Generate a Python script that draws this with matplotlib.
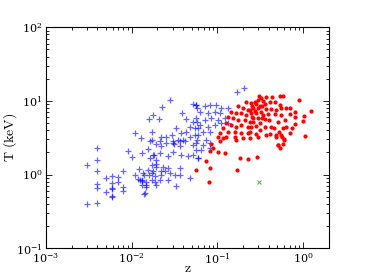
import numpy as np
import matplotlib
matplotlib.use("Agg")
import matplotlib.pyplot as plt

plt.rcParams['mathtext.fontset'] = 'cm'
plt.rcParams['font.family'] = ['DejaVu Serif']

# blue crosses: low-z sample
blue_z = [0.0109, 0.0129, 0.0040, 0.0090, 0.0100, 0.0040, 0.0030, 0.0040, 0.0080, 0.0121,
          0.0109, 0.0138, 0.0050, 0.0059, 0.0070, 0.0119, 0.0131, 0.0059, 0.0070, 0.0040,
          0.0040, 0.0059, 0.0059, 0.0080, 0.0080, 0.0050, 0.0059, 0.0059, 0.0138, 0.0030,
          0.0040,
          0.0163, 0.0223, 0.0305, 0.0364, 0.0417, 0.052, 0.057, 0.0131, 0.0178, 0.0195,
          0.0163, 0.0267, 0.0305, 0.0381, 0.0455, 0.052, 0.0594, 0.0171, 0.0195, 0.0156,
          0.0136, 0.0171, 0.0233, 0.0244, 0.0223, 0.0279, 0.0364, 0.0364, 0.0476, 0.0131,
          0.0149, 0.0131, 0.0149, 0.0187, 0.0143, 0.0333, 0.0213, 0.0267, 0.0195, 0.0213,
          0.031, 0.016, 0.0187, 0.0267, 0.0156,
          0.0279, 0.0229, 0.0178, 0.0160, 0.0208, 0.0392, 0.052, 0.056, 0.058, 0.0436,
          0.052, 0.058, 0.0476, 0.0545, 0.0594, 0.0175, 0.0175, 0.0223, 0.0255, 0.0292,
          0.0333, 0.0381, 0.0436, 0.0476, 0.0545, 0.058, 0.0348, 0.0398, 0.0305, 0.0255,
          0.0217,
          0.204, 0.171, 0.057, 0.0711, 0.0813, 0.0973, 0.111, 0.133, 0.0622, 0.0778,
          0.0931, 0.106, 0.057, 0.0711, 0.0851, 0.102, 0.122, 0.0622, 0.0778, 0.0931,
          0.111, 0.133, 0.0681, 0.0813, 0.0594, 0.0745, 0.0681, 0.0813, 0.057, 0.0652,
          0.0813, 0.0594,
          0.0125, 0.0149, 0.0178, 0.0195, 0.0223, 0.0171, 0.0319, 0.0182, 0.0364, 0.0195]
blue_T = [3.72, 3.18, 2.31, 2.08, 1.72, 1.58, 1.34, 1.13, 1.12, 1.19,
          0.99, 1.00, 0.90, 0.96, 0.92, 0.87, 0.82, 0.76, 0.79, 0.75,
          0.66, 0.66, 0.63, 0.68, 0.59, 0.57, 0.51, 0.49, 0.55, 0.40,
          0.41,
          2.81, 2.45, 2.67, 2.45, 2.81, 2.53, 2.17, 1.95, 1.85, 1.58,
          1.67, 1.76, 2.05, 1.85, 1.76, 1.85, 1.67, 1.35, 1.28, 1.16,
          1.04, 1.04, 1.28, 1.10, 0.99, 1.04, 0.99, 1.22, 0.89, 0.85,
          0.80, 0.72, 0.72, 0.80, 0.56, 0.69, 0.83, 0.83, 0.73, 1.97,
          2.56, 1.00, 0.95, 1.21, 2.19,
          10.3, 8.24, 6.47, 5.66, 5.66, 6.82, 9.14, 8.85, 8.13, 5.66,
          5.15, 5.25, 4.49, 4.35, 4.27, 3.84, 2.96, 3.28, 3.22, 3.46,
          4.27, 3.65, 3.84, 3.28, 3.46, 2.96, 2.96, 2.96, 2.81, 2.67,
          2.81,
          14.9, 13.4, 8.85, 8.40, 8.85, 8.85, 7.98, 7.98, 7.18, 6.82,
          7.18, 6.82, 5.84, 5.53, 5.84, 5.53, 5.84, 4.73, 4.49, 4.73,
          4.99, 4.99, 3.84, 3.84, 3.46, 2.96, 2.53, 2.67, 2.67, 2.17,
          2.28, 1.67,
          0.83, 0.67, 1.11, 1.37, 1.11, 0.83, 1.00, 1.84, 2.84, 2.56]

# red dots: high-z sample
red_z = [0.217, 0.248, 0.174, 0.199, 0.227, 0.259, 0.146, 0.166, 0.190, 0.217,
         0.248, 0.133, 0.152, 0.174, 0.208, 0.238, 0.259, 0.127, 0.146, 0.166,
         0.190, 0.227, 0.116, 0.133, 0.159, 0.190, 0.227, 0.106, 0.127, 0.159,
         0.199, 0.116, 0.102, 0.166, 0.238, 0.106, 0.0851, 0.0889, 0.0813, 0.102,
         0.122, 0.0745, 0.182, 0.227, 0.057, 0.083, 0.169, 0.0795, 0.288, 0.512,
         0.541, 0.579, 0.590,
         0.305, 0.325, 0.437, 0.541, 0.579, 0.889, 0.296, 0.272, 0.355, 0.406,
         0.464, 0.541, 0.255, 0.310, 0.365, 0.425, 0.476, 0.555, 0.622, 0.693,
         0.238, 0.272, 0.284, 0.325, 0.339, 0.387, 0.464, 0.555, 0.693, 0.813,
         1.224, 0.793, 1.016, 0.255, 0.296, 0.355, 0.398, 0.507, 0.607, 0.989,
         0.259, 0.310, 0.248, 0.425, 0.452, 0.579, 0.622, 0.793, 0.745, 0.520,
         0.693, 0.238, 0.284, 0.296, 0.372, 0.406, 0.476, 0.476, 0.555, 0.570,
         0.594, 1.054, 0.507,
         0.296, 0.33, 0.28, 0.33, 0.284, 0.31, 0.355, 0.34, 0.365]
red_T = [9.8, 9.33, 8.40, 7.98, 7.57, 7.98, 7.18, 6.82, 6.82, 6.47,
         6.82, 6.14, 5.84, 5.53, 5.53, 5.25, 5.84, 4.99, 4.73, 4.49,
         4.73, 4.49, 4.27, 3.84, 3.84, 3.65, 3.65, 3.65, 3.28, 3.22,
         3.12, 3.12, 3.28, 2.96, 3.18, 2.81, 2.59, 2.28, 2.10, 2.01,
         1.95, 1.54, 1.67, 1.62, 1.16, 1.22, 1.16, 0.80, 1.72, 2.51,
         2.31, 2.61, 2.99,
         11.5, 11.1, 11.3, 11.7, 11.5, 10.4, 10.3, 9.6, 9.14, 9.6,
         9.8, 8.85, 8.66, 8.66, 7.81, 7.81, 7.57, 8.13, 7.98, 8.13,
         7.57, 7.33, 6.82, 7.18, 6.47, 6.62, 6.62, 6.47, 6.62, 7.18,
         7.33, 6.14, 6.28, 6.14, 5.84, 5.71, 5.53, 5.25, 5.53, 5.37,
         5.15, 4.99, 4.49, 4.49, 4.27, 4.35, 4.49, 4.84, 4.27, 3.84,
         3.72, 3.77, 3.54, 3.28, 3.46, 3.54, 3.46, 3.28, 3.46, 3.28,
         3.05, 3.39, 2.48,
         8.0, 8.5, 9.1, 5.9, 4.5, 4.0, 4.4, 10.0, 11.3]

# single green cross
green_z = [0.308]
green_T = [0.80]

fig, ax = plt.subplots(figsize=(3.66, 2.76), dpi=100)
fig.subplots_adjust(left=0.125, right=0.899, top=0.901, bottom=0.101)

ax.plot(blue_z, blue_T, '+', color='b', alpha=0.6, markersize=4.5, markeredgewidth=0.9)
ax.plot(red_z, red_T, '.', color='r', markersize=4)
ax.plot(green_z, green_T, 'x', color='g', alpha=0.6, markersize=3.5, markeredgewidth=0.8)

ax.set_xscale('log')
ax.set_yscale('log')
ax.set_xlim(1e-3, 2)
ax.set_ylim(0.1, 100)
ax.set_xlabel(r'$\mathrm{z}$', fontsize=10)
ax.set_ylabel(r'$\mathrm{T\ (keV)}$', fontsize=10)
ax.xaxis.set_label_coords(0.5, -0.06)
ax.yaxis.set_label_coords(-0.095, 0.5)

ax.tick_params(which='both', direction='in', top=True, right=True, labelsize=8, width=0.6)
ax.tick_params(which='major', length=4, pad=2.5)
ax.tick_params(which='minor', length=2)
for s in ax.spines.values():
    s.set_linewidth(0.8)

plt.savefig("out.png", dpi=100)
